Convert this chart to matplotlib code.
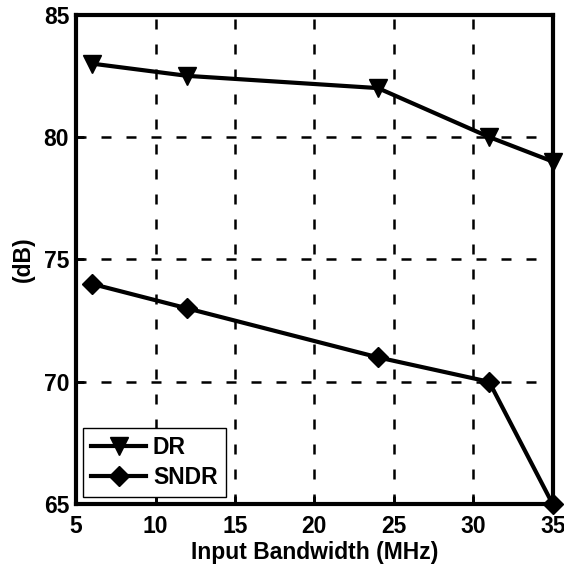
import matplotlib.pyplot as plt

bandwidth = [6, 12, 24, 31, 35]
dr = [83, 82.5, 82, 80, 79]
sndr = [74, 73, 71, 70, 65]

plt.rcParams['font.family'] = ['Liberation Sans', 'DejaVu Sans']
plt.rcParams['font.weight'] = 'bold'
plt.rcParams['font.size'] = 16.5

fig = plt.figure(figsize=(5.64, 5.64), dpi=100)
ax = fig.add_axes([0.135, 0.106, 0.845, 0.868])

ax.plot(bandwidth, dr, color='k', linewidth=3, marker='v', markersize=13,
        label='DR', clip_on=False, zorder=5)
ax.plot(bandwidth, sndr, color='k', linewidth=3, marker='D', markersize=10,
        label='SNDR', clip_on=False, zorder=5)

ax.set_xlim(5, 35)
ax.set_ylim(65, 85)
ax.set_xticks(range(5, 36, 5))
ax.set_yticks(range(65, 86, 5))
ax.grid(True, color='k', linestyle=(0, (4, 6)), linewidth=1.8)
ax.tick_params(direction='in', length=6, width=2)
ax.tick_params(axis='x', pad=8)
ax.tick_params(axis='y', pad=5)
for s in ax.spines.values():
    s.set_linewidth(3)

ax.set_xlabel('Input Bandwidth (MHz)', fontweight='bold', labelpad=2)
ax.set_ylabel('(dB)', fontweight='bold', labelpad=6)

leg = ax.legend(loc='lower left', fancybox=False, edgecolor='k', framealpha=1,
                handlelength=2.4, borderpad=0.35, labelspacing=0.3, handletextpad=0.3,
                borderaxespad=0.3)
leg.get_frame().set_linewidth(1)

fig.savefig('out.png', dpi=100)
